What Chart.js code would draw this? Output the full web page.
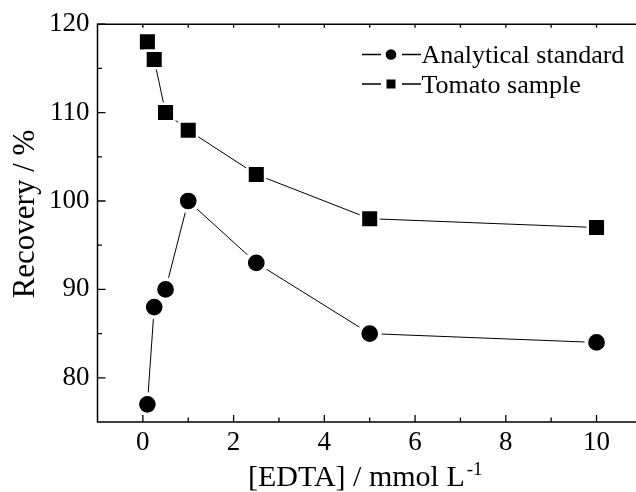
<!DOCTYPE html>
<html><head><meta charset="utf-8">
<script src="https://cdn.jsdelivr.net/npm/chart.js@4.4.1/dist/chart.umd.min.js"></script>
<style>html,body{margin:0;padding:0;background:#fff;overflow:hidden}#wrap{width:636px;height:492px;position:relative}</style>
</head><body><div id="wrap"><canvas id="c"></canvas></div>
<script>
const edtaConcentrations = [0.1, 0.25, 0.5, 1, 2.5, 5, 10];
const analyticalStandard = [77, 88, 90, 100, 93, 85, 84];
const tomatoSample = [118, 116, 110, 108, 103, 98, 97];
const seriesNames = ['Analytical standard', 'Tomato sample'];
const xTickValues = [0, 2, 4, 6, 8, 10];
const xMinorTickValues = [1, 3, 5, 7, 9];
const xTopTickValues = [0, 1, 2, 3, 4, 5, 6, 7, 8, 9, 10];
const yTickValues = [80, 90, 100, 110, 120];
const yMinorTickValues = [85, 95, 105, 115];
const xAxisTitle = '[EDTA] / mmol L';
const xAxisTitleSup = '-1';
const yAxisTitle = 'Recovery / %';

const FONT = "'Liberation Serif', 'Times New Roman', serif";
Chart.defaults.font.family = FONT;
Chart.defaults.color = '#000';

const toPoints = (ys) => edtaConcentrations.map((x, i) => ({x: x, y: ys[i]}));

const framePlugin = {
  id: 'frame',
  afterDraw(chart) {
    const ctx = chart.ctx, a = chart.chartArea, xs = chart.scales.x, ys = chart.scales.y;
    ctx.save();
    ctx.strokeStyle = '#000';
    ctx.fillStyle = '#000';
    ctx.lineWidth = 1.5;
    ctx.lineJoin = 'miter';
    ctx.beginPath();
    ctx.moveTo(a.right + 2, a.top);
    ctx.lineTo(a.left, a.top);
    ctx.lineTo(a.left, a.bottom);
    ctx.lineTo(a.right + 2, a.bottom);
    ctx.stroke();
    ctx.lineWidth = 1.3;
    ctx.beginPath();
    yTickValues.forEach(v => { const y = ys.getPixelForValue(v); ctx.moveTo(a.left, y); ctx.lineTo(a.left + 8, y); });
    yMinorTickValues.forEach(v => { const y = ys.getPixelForValue(v); ctx.moveTo(a.left, y); ctx.lineTo(a.left + 4.5, y); });
    xTickValues.forEach(v => { const x = xs.getPixelForValue(v); ctx.moveTo(x, a.bottom); ctx.lineTo(x, a.bottom - 7); });
    xMinorTickValues.forEach(v => { const x = xs.getPixelForValue(v); ctx.moveTo(x, a.bottom); ctx.lineTo(x, a.bottom - 4.5); });
    xTopTickValues.forEach(v => { const x = xs.getPixelForValue(v); ctx.moveTo(x, a.top); ctx.lineTo(x, a.top + 3.5); });
    ctx.stroke();

    ctx.save();
    ctx.font = '31px ' + FONT;
    ctx.textAlign = 'center';
    ctx.textBaseline = 'alphabetic';
    ctx.translate(33.5, 214);
    ctx.rotate(-Math.PI / 2);
    ctx.fillText(yAxisTitle, 0, 0);
    ctx.restore();

    ctx.font = '30px ' + FONT;
    const wMain = ctx.measureText(xAxisTitle).width;
    const x0 = 248;
    ctx.textAlign = 'left';
    ctx.textBaseline = 'alphabetic';
    ctx.fillText(xAxisTitle, x0, 486);
    ctx.font = '19px ' + FONT;
    ctx.fillText(xAxisTitleSup, x0 + wMain + 2, 475);

    const rows = [{name: seriesNames[0], base: 63, style: 'circle'}, {name: seriesNames[1], base: 92.5, style: 'rect'}];
    ctx.font = '26px ' + FONT;
    rows.forEach(r => {
      const ym = r.base - 8.5;
      ctx.lineWidth = 1.3;
      ctx.beginPath();
      ctx.moveTo(362, ym); ctx.lineTo(381, ym);
      ctx.moveTo(402, ym); ctx.lineTo(421, ym);
      ctx.stroke();
      ctx.beginPath();
      if (r.style === 'circle') { ctx.arc(391, ym, 5.3, 0, Math.PI * 2); }
      else { ctx.rect(386.5, ym - 4.5, 9, 9); }
      ctx.fill();
      ctx.fillText(r.name, 421.5, r.base);
    });
    ctx.restore();
  }
};

new Chart(document.getElementById('c'), {
  type: 'line',
  data: {
    datasets: [
      {
        label: seriesNames[0],
        data: toPoints(analyticalStandard),
        borderColor: '#000',
        borderWidth: 1,
        tension: 0,
        pointStyle: 'circle',
        pointRadius: 10.2,
        pointBorderWidth: 3.7,
        pointBorderColor: '#fff',
        pointBackgroundColor: '#000'
      },
      {
        label: seriesNames[1],
        data: toPoints(tomatoSample),
        borderColor: '#000',
        borderWidth: 1,
        tension: 0,
        pointStyle: 'rect',
        pointRadius: 12.4,
        pointBorderWidth: 2.5,
        pointBorderColor: '#fff',
        pointBackgroundColor: '#000'
      }
    ]
  },
  options: {
    responsive: true,
    maintainAspectRatio: false,
    animation: false,
    events: [],
    layout: {autoPadding: false, padding: {top: 24, right: 0, left: 0, bottom: 0}},
    plugins: {legend: {display: false}, tooltip: {enabled: false}},
    scales: {
      x: {
        type: 'linear',
        min: -1,
        max: 10.87,
        afterBuildTicks: s => { s.ticks = xTickValues.map(v => ({value: v})); },
        afterFit: s => { s.height = 70; s.paddingLeft = 0; s.paddingRight = 0; },
        grid: {display: false, drawTicks: false},
        border: {display: false},
        ticks: {font: {family: FONT, size: 27}, color: '#000', padding: 5, maxRotation: 0, autoSkip: false}
      },
      y: {
        type: 'linear',
        min: 75,
        max: 120,
        afterBuildTicks: s => { s.ticks = yTickValues.map(v => ({value: v})); },
        afterFit: s => { s.width = 97.5; },
        grid: {display: false, drawTicks: false},
        border: {display: false},
        ticks: {font: {family: FONT, size: 27}, color: '#000', padding: 8, autoSkip: false}
      }
    }
  },
  plugins: [framePlugin]
});
</script>
</body></html>
